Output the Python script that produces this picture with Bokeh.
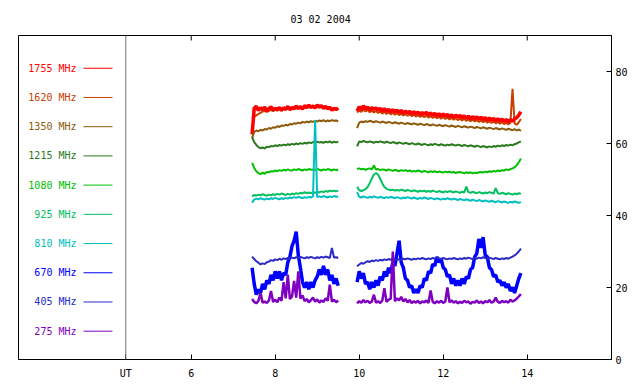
import math
import numpy as np
from bokeh.plotting import figure
from bokeh.models import Range1d, FixedTicker, Span
from bokeh.core.properties import value
from bokeh.embed import file_html
from bokeh.resources import INLINE

TITLE = "03 02 2004"
UT_HOUR = 4.443
X_TICKS = [6, 8, 10, 12, 14]
Y_TICKS = [0, 20, 40, 60, 80]

FREQS = ["1755", "1620", "1350", "1215", "1080", "925", "810", "670", "405", "275"]
COLORS = ["#ff0000", "#c84000", "#8c5a0a", "#2a7a1e", "#00c000",
          "#00c060", "#00c0c0", "#0000ff", "#2a2ac8", "#8000c0"]

# two observing intervals sampled every 0.05 h
AM_START, PM_START, STEP = 7.45, 9.95, 0.05
N_AM, N_PM = 42, 79

f1755 = [62.5, 69.8, 70.3, 69.2, 69.9, 69.4, 70.1, 69.0, 69.7, 70.2,
         69.3, 69.8, 69.5, 70.0, 69.2, 69.9, 69.6, 70.3, 69.4, 70.0,
         69.7, 70.4, 69.8, 70.2, 69.6, 70.5, 70.0, 70.6, 70.1, 70.4,
         69.9, 70.7, 70.2, 70.5, 69.8, 70.3, 69.6, 70.1, 69.2, 69.8,
         69.4, 69.9,
         69.0, 70.2, 69.4, 70.5, 69.6, 70.1, 69.3, 70.0, 69.5, 69.9,
         69.2, 69.8, 69.0, 69.7, 68.9, 69.5, 68.8, 69.4, 68.7, 69.3,
         68.6, 69.2, 68.4, 69.0, 68.5, 68.9, 68.2, 68.8, 68.3, 68.7,
         68.0, 68.6, 68.1, 68.7, 67.9, 68.5, 67.8, 68.4, 67.7, 68.3,
         67.6, 68.2, 67.5, 68.1, 67.4, 68.0, 67.2, 67.9, 67.3, 67.8,
         67.1, 67.7, 67.0, 67.6, 66.8, 67.5, 66.9, 67.4, 66.7, 67.3,
         66.6, 67.2, 66.5, 67.1, 66.4, 67.0, 66.3, 66.9, 66.2, 66.8,
         66.1, 66.7, 66.0, 66.6, 66.2, 66.8, 67.2, 67.9, 68.8]

f1620 = [67.0, 67.4, 67.8, 68.2, 68.5, 68.9, 69.0, 68.8, 69.1, 69.3,
         69.0, 69.4, 69.1, 69.5, 69.2, 69.6, 69.3, 69.7, 69.4, 69.8,
         69.5, 69.9, 69.6, 70.0, 69.7, 70.1, 69.8, 70.2, 69.9, 70.1,
         69.8, 70.2, 69.9, 70.1, 69.7, 70.0, 69.6, 69.9, 69.5, 69.8,
         69.4, 69.7,
         68.6, 69.2, 68.8, 69.4, 68.9, 69.3, 68.7, 69.1, 68.6, 69.0,
         68.5, 68.9, 68.3, 68.8, 68.2, 68.7, 68.1, 68.5, 68.0, 68.4,
         67.9, 68.3, 67.8, 68.2, 67.7, 68.1, 67.6, 68.0, 67.5, 67.9,
         67.4, 67.8, 67.3, 67.7, 67.2, 67.6, 67.1, 67.5, 67.0, 67.4,
         66.9, 67.3, 66.8, 67.2, 66.7, 67.1, 66.6, 67.0, 66.5, 66.9,
         66.4, 66.8, 66.3, 66.7, 66.2, 66.6, 66.1, 66.5, 66.0, 66.4,
         65.9, 66.3, 65.8, 66.2, 65.7, 66.1, 65.6, 66.0, 65.5, 65.9,
         65.4, 65.8, 65.3, 65.7, 75.2, 65.6, 65.2, 65.9, 66.8]

f1350 = [61.5, 63.2, 63.6, 63.4, 63.8, 63.6, 64.0, 63.9, 64.3, 64.1,
         64.5, 64.4, 64.8, 64.6, 65.0, 64.9, 65.2, 65.0, 65.4, 65.3,
         65.6, 65.5, 65.8, 65.6, 66.0, 65.8, 66.1, 65.9, 66.2, 66.0,
         66.3, 66.1, 66.4, 66.2, 66.5, 66.1, 66.4, 66.2, 66.5, 66.3,
         66.4, 66.2,
         64.3, 65.8, 66.1, 65.9, 66.2, 66.0, 66.3, 66.1, 65.9, 66.2,
         66.0, 65.8, 66.1, 65.9, 65.7, 66.0, 65.8, 65.6, 65.9, 65.7,
         65.5, 65.8, 65.6, 65.4, 65.7, 65.5, 65.3, 65.6, 65.4, 65.2,
         65.5, 65.3, 65.1, 65.4, 65.2, 65.0, 65.3, 65.1, 64.9, 65.2,
         65.0, 64.8, 65.1, 64.9, 64.7, 65.0, 64.8, 64.6, 64.9, 64.7,
         64.5, 64.8, 64.6, 64.4, 64.7, 64.5, 64.3, 64.6, 64.4, 64.2,
         64.5, 64.3, 64.1, 64.4, 64.2, 64.0, 64.3, 64.1, 63.9, 64.2,
         64.0, 63.8, 64.1, 63.9, 63.7, 64.0, 63.6, 63.9, 63.5]

f1215 = [61.8, 60.4, 59.6, 59.0, 58.7, 58.9, 58.6, 59.1, 59.0, 59.3,
         59.2, 59.5, 59.3, 59.6, 59.4, 59.7, 59.5, 59.8, 59.6, 59.9,
         59.7, 60.0, 59.8, 60.1, 59.9, 60.2, 60.0, 60.3, 60.1, 60.4,
         60.2, 60.5, 60.3, 60.4, 60.2, 60.5, 60.3, 60.6, 60.2, 60.5,
         60.3, 60.5,
         59.2, 60.6, 60.4, 60.7, 60.5, 60.3, 60.6, 60.4, 60.2, 60.5,
         60.3, 60.6, 60.4, 60.2, 60.5, 60.3, 60.1, 60.4, 60.2, 60.0,
         60.3, 60.1, 59.9, 60.2, 60.0, 59.8, 60.1, 59.9, 59.7, 60.0,
         59.8, 59.6, 59.9, 59.7, 59.5, 59.8, 59.6, 59.9, 59.7, 59.5,
         59.8, 59.6, 59.4, 59.7, 59.5, 59.8, 59.6, 59.4, 59.7, 59.5,
         59.3, 59.6, 59.4, 59.2, 59.5, 59.3, 59.1, 59.4, 59.2, 59.0,
         59.3, 59.1, 58.9, 59.2, 59.0, 59.3, 59.1, 59.4, 59.2, 59.5,
         59.3, 59.6, 59.4, 59.7, 59.5, 59.8, 60.0, 60.3, 60.6]

f1080 = [54.6, 53.2, 52.3, 51.8, 51.5, 51.9, 51.6, 52.1, 52.0, 52.3,
         52.2, 52.5, 52.3, 52.6, 52.4, 52.7, 52.5, 52.8, 52.6, 52.5,
         52.8, 52.6, 52.9, 52.7, 52.5, 52.8, 52.6, 52.9, 52.7, 52.8,
         52.6, 52.9, 52.7, 52.5, 52.8, 52.6, 52.9, 52.7, 52.5, 52.8,
         52.6, 52.7,
         52.9, 53.1, 52.8, 53.0, 52.7, 52.9, 53.1, 52.8, 53.9, 52.8,
         52.9, 52.6, 52.8, 52.7, 52.5, 52.8, 52.6, 52.4, 52.7, 52.5,
         52.3, 52.6, 52.4, 52.6, 52.3, 52.5, 52.2, 52.4, 52.2, 52.5,
         52.3, 52.1, 52.4, 52.2, 52.0, 52.3, 52.1, 52.3, 52.0, 52.2,
         52.1, 51.9, 52.2, 52.0, 52.2, 51.9, 52.1, 51.8, 52.0, 52.1,
         51.9, 51.7, 52.0, 51.8, 52.0, 51.7, 51.9, 51.8, 52.0, 52.1,
         51.9, 52.2, 52.0, 52.3, 52.1, 52.4, 52.2, 52.5, 52.3, 52.6,
         52.5, 52.8, 52.6, 52.9, 53.1, 53.4, 54.0, 54.8, 55.8]

f925 = [45.3, 45.7, 45.5, 45.8, 45.6, 45.9, 45.7, 45.5, 45.8, 45.6,
        45.9, 45.7, 46.0, 45.8, 46.1, 45.9, 45.7, 46.0, 45.8, 46.1,
        45.9, 46.2, 46.0, 46.3, 46.1, 46.5, 46.2, 46.4, 46.2, 46.5,
        46.3, 46.6, 46.4, 46.7, 46.5, 46.8, 46.6, 46.9, 46.7, 46.9,
        46.7, 46.9,
        48.0, 47.0, 46.8, 47.0, 47.3, 47.9, 49.0, 50.3, 51.4, 51.8,
        51.3, 50.2, 48.9, 47.9, 47.4, 47.2, 47.0, 47.2, 46.9, 47.1,
        46.9, 47.2, 47.0, 46.8, 47.1, 46.9, 46.7, 47.0, 46.8, 46.6,
        46.9, 46.7, 46.9, 46.6, 46.8, 46.6, 46.9, 46.7, 46.5, 46.8,
        46.6, 46.4, 46.7, 46.5, 46.8, 46.6, 46.4, 46.7, 46.5, 46.3,
        46.6, 46.4, 48.0, 46.5, 46.3, 46.6, 46.4, 46.2, 46.5, 46.3,
        46.1, 46.4, 46.2, 46.5, 46.3, 46.1, 47.6, 46.2, 46.0, 46.3,
        46.1, 45.9, 46.2, 46.0, 45.8, 46.1, 45.9, 46.2, 46.0]

f810 = [43.6, 44.4, 44.7, 44.5, 44.8, 44.6, 44.4, 44.7, 44.5, 44.8,
        44.6, 44.9, 44.7, 44.5, 44.8, 44.6, 44.9, 44.7, 45.0, 44.8,
        45.1, 44.9, 45.2, 45.0, 44.8, 45.1, 44.9, 45.2, 45.0, 45.3,
        66.5, 45.1, 45.3, 45.1, 45.4, 45.2, 45.0, 45.3, 45.1, 45.4,
        45.2, 45.3,
        46.5, 45.2, 45.0, 45.3, 45.1, 44.9, 45.2, 45.0, 45.3, 45.1,
        44.9, 45.2, 45.0, 44.8, 45.1, 44.9, 45.2, 45.0, 44.8, 45.1,
        44.9, 44.7, 45.0, 44.8, 45.1, 44.9, 44.7, 45.0, 44.8, 44.6,
        44.9, 44.7, 45.0, 44.8, 44.6, 44.9, 44.7, 44.5, 44.8, 44.6,
        44.4, 44.7, 44.5, 44.8, 44.6, 44.4, 44.7, 44.5, 44.3, 44.6,
        44.4, 44.2, 44.5, 44.3, 44.1, 44.4, 44.2, 44.0, 44.3, 44.1,
        43.9, 44.2, 44.0, 43.8, 44.1, 43.9, 43.7, 44.0, 43.8, 43.6,
        43.9, 43.7, 43.5, 43.8, 43.6, 43.9, 43.7, 43.5, 43.8]

f670 = [25.5, 21.0, 18.0, 19.5, 18.5, 21.0, 19.5, 22.0, 21.0, 23.5,
        22.0, 24.5, 22.5, 24.5, 22.0, 24.0, 23.5, 27.0, 28.5, 31.5,
        33.0, 35.5, 29.0, 25.5, 21.5, 20.0, 21.5, 19.5, 21.5, 20.0,
        22.0, 23.0, 25.0, 23.5, 26.0, 23.5, 25.0, 22.0, 23.5, 21.0,
        22.5, 20.5,
        21.5, 24.5, 22.5, 24.0, 21.0, 21.5, 19.5, 21.5, 20.0, 22.0,
        20.5, 23.0, 22.0, 24.5, 23.0, 25.5, 24.0, 27.0, 26.0, 29.5,
        33.0, 27.0, 25.5, 22.5, 22.0, 20.0, 20.5, 18.5, 19.5, 18.5,
        20.5, 20.0, 22.5, 22.0, 24.5, 24.0, 26.5, 26.0, 28.5, 27.0,
        28.0, 25.5, 25.0, 23.0, 23.5, 21.0, 22.5, 20.5, 22.0, 20.5,
        22.5, 21.0, 23.0, 22.5, 25.0, 25.5, 28.5, 29.5, 33.5, 31.0,
        34.0, 29.0, 28.5, 25.5, 25.0, 23.0, 23.5, 21.5, 22.0, 20.5,
        21.5, 20.0, 21.0, 19.0, 20.0, 18.5, 20.5, 22.5, 24.0]

f405 = [28.6, 27.9, 27.3, 26.9, 26.4, 26.7, 26.5, 27.0, 27.2, 27.6,
        27.4, 27.8, 27.6, 28.0, 27.7, 28.1, 27.9, 28.2, 28.0, 28.3,
        28.1, 28.4, 28.2, 28.5, 28.3, 28.1, 28.4, 28.2, 28.5, 28.3,
        28.1, 28.4, 28.2, 28.5, 28.3, 28.6, 28.4, 28.2, 31.0, 28.3,
        28.4, 28.2,
        25.9, 26.4, 26.8, 26.6, 27.0, 27.3, 27.1, 27.5, 27.3, 27.6,
        27.4, 27.7, 27.5, 27.8, 27.6, 27.9, 27.7, 28.0, 27.8, 27.6,
        27.9, 27.7, 28.0, 27.8, 28.1, 27.9, 27.7, 28.0, 27.8, 28.1,
        27.9, 28.2, 28.0, 27.8, 28.1, 27.9, 28.2, 28.0, 28.3, 28.1,
        27.9, 28.2, 28.0, 27.8, 28.1, 27.9, 28.2, 28.0, 27.8, 28.1,
        27.9, 28.2, 28.0, 28.3, 28.1, 27.9, 28.2, 28.0, 28.3, 28.1,
        28.4, 28.2, 28.0, 28.3, 28.1, 27.9, 28.2, 28.0, 27.8, 28.1,
        27.9, 28.2, 28.0, 28.3, 28.6, 28.9, 29.4, 30.0, 30.8]

f275 = [16.8, 16.0, 15.6, 16.3, 18.5, 15.8, 16.1, 15.7, 16.4, 19.0,
        16.0, 16.6, 15.9, 17.2, 16.3, 21.5, 17.0, 23.5, 16.8, 17.5,
        21.8, 17.2, 24.5, 16.9, 17.8, 16.2, 16.8, 15.9, 16.5, 17.2,
        16.1, 16.7, 15.8, 16.4, 16.0, 17.0, 16.3, 20.8, 16.1, 16.6,
        15.9, 16.4,
        15.6, 16.2, 15.8, 16.5, 15.9, 16.3, 15.7, 16.1, 18.0, 15.8,
        16.2, 15.7, 16.4, 19.8, 16.0, 16.6, 16.9, 30.0, 16.2, 17.0,
        16.4, 17.4, 16.1, 16.8, 15.9, 16.5, 15.7, 16.2, 15.8, 16.3,
        15.6, 16.1, 15.9, 16.4, 15.7, 19.2, 16.0, 15.6, 16.2, 15.8,
        16.3, 15.7, 16.1, 20.0, 15.9, 16.4, 15.8, 16.2, 15.6, 16.0,
        15.7, 16.3, 15.9, 16.1, 15.5, 16.0, 15.8, 16.4, 15.7, 16.1,
        15.6, 16.2, 15.9, 16.5, 15.8, 16.1, 17.2, 16.0, 15.7, 16.3,
        15.9, 16.2, 15.8, 16.6, 16.1, 16.4, 16.9, 17.5, 18.2]

SERIES = {"1755": f1755, "1620": f1620, "1350": f1350, "1215": f1215,
          "1080": f1080, "925": f925, "810": f810, "670": f670,
          "405": f405, "275": f275}

t_am = list(np.round(AM_START + STEP * np.arange(N_AM), 2))
t_pm = list(np.round(PM_START + STEP * np.arange(N_PM), 2))
t_all = t_am + [math.nan] + t_pm

FONT = "DejaVu Sans Mono"
X0, X1, Y0, Y1 = 1.888, 16.007, 0, 90
FRAME_H_PX = 324
TICK_PX = 5

p = figure(width=632, height=382, output_backend="svg", toolbar_location=None,
           x_range=Range1d(X0, X1), y_range=Range1d(Y0, Y1),
           y_axis_location="right", min_border_left=18, min_border_right=21,
           min_border_top=35, min_border_bottom=23)
p.xgrid.visible = False
p.ygrid.visible = False
p.outline_line_color = "black"
p.outline_line_width = 1
p.background_fill_color = "white"
p.border_fill_color = "white"

p.title.text = TITLE
p.title.align = "left"
p.title.offset = 272
p.title.text_font = FONT
p.title.text_font_size = "10px"
p.title.text_font_style = "normal"
p.title.text_color = "#000000"
p.title.standoff = 22

xax = p.xaxis[0]
xax.ticker = FixedTicker(ticks=[UT_HOUR] + X_TICKS)
xax.major_label_overrides = {UT_HOUR: "UT", **{t: str(t) for t in X_TICKS}}
yax = p.yaxis[0]
yax.ticker = FixedTicker(ticks=Y_TICKS)
for ax in (xax, yax):
    ax.major_tick_in = TICK_PX
    ax.major_tick_out = 0
    ax.minor_tick_line_color = None
    ax.axis_line_color = "black"
    ax.major_tick_line_color = "black"
    ax.major_label_text_font = FONT
    ax.major_label_text_font_size = "10px"
    ax.major_label_text_color = "black"
xax.major_label_standoff = 8
yax.major_label_standoff = 4

# inward ticks on the top edge
tick_len = TICK_PX * (Y1 - Y0) / FRAME_H_PX
p.segment(x0=X_TICKS, x1=X_TICKS, y0=[Y1] * len(X_TICKS), y1=[Y1 - tick_len] * len(X_TICKS),
          line_color="black", line_width=1)

p.add_layout(Span(location=UT_HOUR, dimension="height", line_color="#707070", line_width=1))

# legend in the left panel
leg_y = [80.9 - 8.115 * i for i in range(len(FREQS))]
p.text(x=[3.269] * len(FREQS), y=leg_y, text=[f + " MHz" for f in FREQS],
       text_color=COLORS, text_align="right", text_baseline="middle",
       text_font=value(FONT), text_font_size="10px")
p.segment(x0=[3.436] * len(FREQS), x1=[4.126] * len(FREQS), y0=leg_y, y1=leg_y,
          line_color=COLORS, line_width=1)

order = ["1620", "1755", "1350", "1215", "1080", "925", "810", "670", "405", "275"]
widths = {"1755": 3.5, "670": 3.5, "275": 2.5}
for f in order:
    vals = SERIES[f]
    ys = vals[:N_AM] + [math.nan] + vals[N_AM:]
    assert len(ys) == len(t_all), (f, len(vals))
    col = COLORS[FREQS.index(f)]
    p.line(t_all, ys, line_color=col, line_width=widths.get(f, 2))

open("out.html", "w").write(file_html(p, INLINE))
